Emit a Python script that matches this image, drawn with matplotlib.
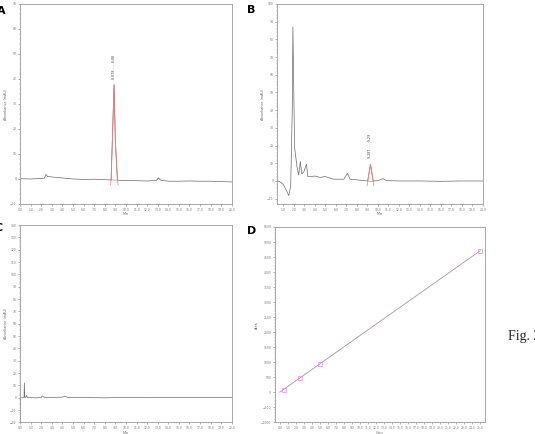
import numpy as np
import matplotlib
matplotlib.use("Agg")
import matplotlib.pyplot as plt
from matplotlib.ticker import AutoMinorLocator

# ---- data ----
# panel A: standard chromatogram (time in min, signal)
a_time = [0.0, 1.0, 2.0, 2.3, 2.45, 2.6, 3.0, 4.0, 5.0, 6.0, 7.0, 8.0, 8.6,
          8.75, 8.88, 9.0, 9.2, 10.0, 11.0, 12.0, 12.9, 13.05, 13.3, 14.0,
          15.0, 16.0, 17.0, 18.0, 19.0, 20.0]
a_signal = [0.1, 0.0, 0.2, 0.3, 1.8, 1.0, 0.8, 0.4, 0.0, -0.2, -0.1, -0.3, -0.4,
            20.0, 37.7, 15.0, -0.5, -0.6, -0.7, -0.8, -0.5, 0.4, -0.5, -0.9,
            -0.9, -0.8, -0.9, -0.9, -1.0, -1.2]
a_peak = (8.6, 9.2)
a_peak_label = "8.878  - -  8.88"

# panel B: sample chromatogram
b_time = [0.4, 0.6, 0.8, 1.0, 1.3, 1.52, 1.7, 1.85, 1.91, 2.07, 2.30, 2.46,
          2.62, 2.75, 2.94, 3.20, 3.33, 3.69, 4.01, 4.50, 4.98, 5.79, 6.76,
          7.09, 7.35, 8.0, 9.03, 9.29, 9.55, 10.0, 10.49, 10.81, 12.0, 14.0,
          16.0, 18.0, 20.0]
b_signal = [0.0, -0.2, -1.0, -2.0, -5.5, -8.3, -3.0, 40.0, 87.0, 19.0, 8.0, 3.4,
            11.0, 4.0, 5.0, 9.6, 2.5, 2.5, 2.8, 2.0, 2.5, 1.0, 1.0,
            4.3, 1.0, 0.6, 0.0, 9.4, 0.0, 0.2, 1.3, 0.2, 0.0, 0.0,
            -0.2, 0.0, 0.0]
b_peak = (9.03, 9.55)
b_peak_label = "9.287  - -  9.29"

# panel C: blank chromatogram
c_time = [0.0, 0.02, 0.3, 0.38, 0.41, 0.45, 0.55, 0.62, 0.7, 1.5, 2.0, 2.1,
          2.3, 3.0, 4.0, 4.25, 4.5, 6.0, 8.0, 10.0, 12.0, 14.0, 16.0, 18.0, 20.0]
c_signal = [-20.0, 0.0, 0.0, 0.2, 12.0, 0.5, 0.3, 2.0, 0.2, 0.0, 0.2, 1.5,
            0.4, 0.2, 0.6, 1.2, 0.3, 0.2, 0.0, 0.3, 0.1, 0.3, 0.2, 0.3, 0.4]

# panel D: calibration curve
d_conc = [0.5, 2.5, 5.0, 25.0]
d_area = [90, 493, 953, 4709]

trace_col = "#6a6a6a"
red_col = "#f07c7c"
spine_col = "#9a9a9a"

fig = plt.figure(figsize=(5.35, 4.34), dpi=100)


def style_axes(ax, xlabel, ylabel):
    for s in ax.spines.values():
        s.set_color(spine_col)
        s.set_linewidth(0.6)
    ax.tick_params(labelsize=2.2, length=1.5, width=0.4, colors="#777777", pad=1.2)
    ax.tick_params(which="minor", length=0.8, width=0.3, colors="#999999")
    ax.yaxis.set_minor_locator(AutoMinorLocator(5))
    ax.xaxis.set_minor_locator(AutoMinorLocator(2))
    ax.set_xlabel(xlabel, fontsize=2.4, color="#666666", labelpad=0.3)
    ax.set_ylabel(ylabel, fontsize=2.4, color="#666666", labelpad=1.5)


def chromatogram(ax, t, v, peak=None, label=None):
    t = np.asarray(t)
    v = np.asarray(v)
    ax.plot(t, v, color=trace_col, lw=0.5)
    if peak is not None:
        m = (t >= peak[0]) & (t <= peak[1])
        ax.plot(t[m], v[m], color=red_col, lw=0.6)
        base = [v[m][0], v[m][-1]]
        ax.plot(peak, base, color=red_col, lw=0.5)
        span = ax.get_ylim()[1] - ax.get_ylim()[0]
        d = span * 0.025
        ax.plot([peak[0], peak[0] - 0.06], [base[0], base[0] - d], color=red_col, lw=0.5)
        ax.plot([peak[1], peak[1] + 0.06], [base[1], base[1] - d], color=red_col, lw=0.5)
        top = v[m].max()
        ax.text(t[m][np.argmax(v[m])], top + span * 0.03, label, rotation=90,
                fontsize=2.3, color="#444444", ha="center", va="bottom")


# A
axA = fig.add_axes([0.0374, 0.530, 0.396, 0.461])
axA.set_xlim(0, 20)
axA.set_ylim(-10, 70)
axA.set_xticks(np.arange(0, 21, 1))
axA.set_xticklabels([f"{x:.1f}" for x in range(21)])
axA.set_yticks(np.arange(-10, 71, 10))
chromatogram(axA, a_time, a_signal, a_peak, a_peak_label)
style_axes(axA, "Min", "Absorbance (mAU)")

# B
axB = fig.add_axes([0.5178, 0.530, 0.385, 0.461])
axB.set_xlim(0.4, 20)
axB.set_ylim(-13, 100)
axB.set_xticks(np.arange(1, 21, 1))
axB.set_xticklabels([f"{x:.1f}" for x in range(1, 21)])
axB.set_yticks(np.arange(-10, 101, 10))
chromatogram(axB, b_time, b_signal, b_peak, b_peak_label)
style_axes(axB, "Min", "Absorbance (mAU)")

# C
axC = fig.add_axes([0.0374, 0.0265, 0.396, 0.455])
axC.set_xlim(0, 20)
axC.set_ylim(-20, 140)
axC.set_xticks(np.arange(0, 21, 1))
axC.set_xticklabels([f"{x:.1f}" for x in range(21)])
axC.set_yticks(np.arange(-20, 141, 10))
chromatogram(axC, c_time, c_signal)
style_axes(axC, "Min", "Absorbance (mAU)")

# D
axD = fig.add_axes([0.514, 0.0265, 0.3925, 0.4505])
axD.set_xlim(-0.6, 25.6)
axD.set_ylim(-1000, 5500)
axD.set_xticks(np.arange(0, 26, 1))
axD.set_xticklabels([f"{x:.1f}" for x in range(26)])
axD.set_yticks(np.arange(-1000, 5501, 500))
slope, intercept = np.polyfit(d_conc, d_area, 1)
xfit = np.array([0.0, max(d_conc)])
axD.plot(xfit, slope * xfit + intercept, color="#a392ad", lw=0.6)
axD.plot(d_conc, d_area, ls="none", marker="s", ms=2.2, mfc="none",
         mec="#e68ad6", mew=0.5)
style_axes(axD, "Conc", "Area")

# panel letters and caption
fig.text(-0.006, 0.986, "A", fontsize=8, fontweight="bold", ha="left", va="top")
fig.text(0.461, 0.988, "B", fontsize=8, fontweight="bold", ha="left", va="top")
fig.text(-0.010, 0.487, "C", fontsize=8, fontweight="bold", ha="left", va="top")
fig.text(0.461, 0.479, "D", fontsize=8, fontweight="bold", ha="left", va="top")
fig.text(0.949, 0.224, "Fig. 2", fontsize=10, family="Liberation Serif", ha="left",
         va="center", color="#222222")

fig.savefig("out.png", dpi=100)
